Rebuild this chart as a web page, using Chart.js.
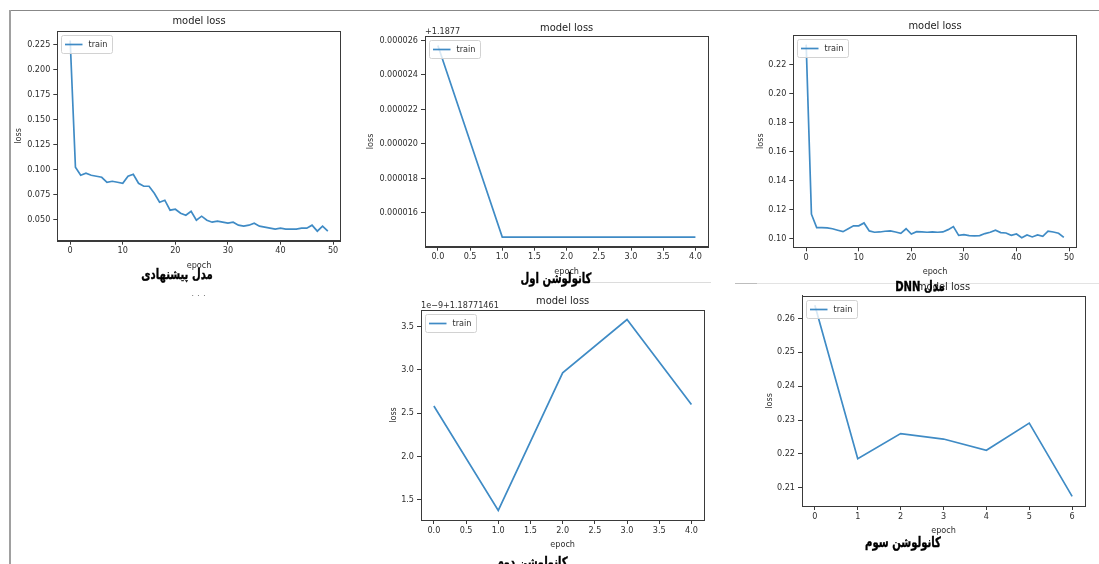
<!DOCTYPE html>
<html>
<head>
<meta charset="utf-8">
<script src="https://cdn.jsdelivr.net/npm/chart.js@4.4.1/dist/chart.umd.min.js"></script>
<style>
  html, body { margin: 0; padding: 0; background: #fff; }
  body { width: 1099px; height: 564px; position: relative; overflow: hidden; }
  .panel { position: absolute; }
  .panel canvas { display: block; }
  .rule { position: absolute; }
  .caption {
    position: absolute;
    font-family: 'DejaVu Sans', sans-serif;
    font-weight: bold;
    font-size: 14px;
    line-height: 1;
    color: #000;
    white-space: nowrap;
    -webkit-text-stroke: 0.4px #000;
    transform: translate(-50%, -50%) scaleX(0.72);
  }
  .dots { position: absolute; font: 9px 'DejaVu Sans', sans-serif; color: #777; transform: translate(-50%, -50%); letter-spacing: 3px; }
</style>
</head>
<body>
<!-- page frame and separators -->
<div class="rule" style="left:9px;top:10px;width:1090px;height:1px;background:#888"></div>
<div class="rule" style="left:9px;top:10px;width:2px;height:554px;background:#a0a0a0"></div>
<div class="rule" style="left:590px;top:282px;width:121px;height:1px;background:#dcdcdc"></div>
<div class="rule" style="left:735px;top:283px;width:364px;height:1px;background:#e3e3e3"></div>
<div class="rule" style="left:735px;top:283px;width:22px;height:1px;background:#bdbdbd"></div>

<div class="panel" style="left:10px;top:11px;width:345px;height:270px"><canvas id="cProposed"></canvas></div>
<div class="panel" style="left:362px;top:14px;width:352px;height:270px"><canvas id="cConv1"></canvas></div>
<div class="panel" style="left:750px;top:13px;width:345px;height:272px"><canvas id="cDnn"></canvas></div>
<div class="panel" style="left:380px;top:288px;width:330px;height:270px"><canvas id="cConv2"></canvas></div>
<div class="panel" style="left:758px;top:275px;width:335px;height:262px"><canvas id="cConv3"></canvas></div>

<div class="caption" style="left:177px;top:274px">مدل پیشنهادی</div>
<div class="dots" style="left:200px;top:293px">...</div>
<div class="caption" style="left:556px;top:278px">کانولوشن اول</div>
<div class="caption" dir="rtl" style="left:920px;top:286px">مدل DNN</div>
<div class="caption" style="left:532px;top:562px">کانولوشن دوم</div>
<div class="caption" style="left:903px;top:542px">کانولوشن سوم</div>

<script>
// ---- training loss per epoch ----
const proposedLoss = [
  0.229, 0.102, 0.094, 0.096, 0.094, 0.093, 0.092, 0.087, 0.088, 0.087,
  0.086, 0.093, 0.095, 0.086, 0.083, 0.083, 0.076, 0.067, 0.069, 0.059,
  0.060, 0.056, 0.054, 0.058, 0.049, 0.053, 0.049, 0.047, 0.048, 0.047,
  0.046, 0.047, 0.044, 0.043, 0.044, 0.046, 0.043, 0.042, 0.041, 0.040,
  0.041, 0.040, 0.040, 0.040, 0.041, 0.041, 0.044, 0.038, 0.043, 0.038
];
// first convolution model: loss minus 1.1877
const conv1LossOffset = [0.0000257, 0.0000146, 0.0000146, 0.0000146, 0.0000146];
const dnnLoss = [
  0.2334, 0.1170, 0.1078, 0.1078, 0.1076, 0.1070, 0.1060, 0.1050, 0.1070, 0.1090,
  0.1090, 0.1110, 0.1055, 0.1046, 0.1048, 0.1053, 0.1055, 0.1048, 0.1039, 0.1070,
  0.1034, 0.1050, 0.1048, 0.1046, 0.1048, 0.1046, 0.1048, 0.1064, 0.1085, 0.1025,
  0.1030, 0.1023, 0.1021, 0.1023, 0.1037, 0.1046, 0.1060, 0.1044, 0.1041, 0.1025,
  0.1034, 0.1009, 0.1028, 0.1014, 0.1028, 0.1018, 0.1053, 0.1048, 0.1039, 0.1011
];
// second convolution model: (loss - 1.18771461) in units of 1e-9
const conv2LossOffset = [2.583, 1.376, 2.966, 3.581, 2.599];
const conv3Loss = [0.2638, 0.2186, 0.2260, 0.2244, 0.2211, 0.2291, 0.2075];

// ---- tick labels ----
const epochTicks50 = [0, 10, 20, 30, 40, 50];
const epochTicks4 = [0, 0.5, 1, 1.5, 2, 2.5, 3, 3.5, 4];
const epochTicks6 = [0, 1, 2, 3, 4, 5, 6];
const proposedTicks = [0.05, 0.075, 0.1, 0.125, 0.15, 0.175, 0.2, 0.225];
const conv1Ticks = [0.000016, 0.000018, 0.000020, 0.000022, 0.000024, 0.000026];
const dnnTicks = [0.10, 0.12, 0.14, 0.16, 0.18, 0.20, 0.22];
const conv2Ticks = [1.5, 2.0, 2.5, 3.0, 3.5];
const conv3Ticks = [0.21, 0.22, 0.23, 0.24, 0.25, 0.26];

const FONT = "'DejaVu Sans Condensed', 'DejaVu Sans', sans-serif";
const INK = '#2e2e2e';
const SPINE = '#3a3a3a';
const LINE_BLUE = '#3f8bc5';

// axis limits with 5% head-room on both sides
function paddedRange(lo, hi) {
  const m = (hi - lo) * 0.05;
  return { min: lo - m, max: hi + m };
}

// closed box around the plotting area
const axesFrame = {
  id: 'axesFrame',
  afterDatasetsDraw(chart) {
    const { ctx, chartArea: a } = chart;
    ctx.save();
    ctx.strokeStyle = SPINE;
    ctx.lineWidth = 1;
    ctx.strokeRect(Math.round(a.left) + 0.5, Math.round(a.top) + 0.5,
                   Math.round(a.right - a.left), Math.round(a.bottom - a.top));
    ctx.restore();
  }
};

// framed legend in the upper-left corner of the plotting area
const cornerLegend = {
  id: 'cornerLegend',
  afterDraw(chart) {
    const ds = chart.data.datasets[0];
    const { ctx, chartArea: a } = chart;
    const x = Math.round(a.left) + 4.5, y = Math.round(a.top) + 4.5, w = 51, h = 18;
    ctx.save();
    ctx.fillStyle = 'rgba(255,255,255,0.8)';
    ctx.strokeStyle = '#d2d2d2';
    ctx.lineWidth = 1;
    ctx.beginPath();
    ctx.roundRect(x, y, w, h, 2);
    ctx.fill();
    ctx.stroke();
    ctx.strokeStyle = ds.borderColor;
    ctx.lineWidth = ds.borderWidth;
    ctx.beginPath();
    ctx.moveTo(x + 3.5, y + h / 2);
    ctx.lineTo(x + 21, y + h / 2);
    ctx.stroke();
    ctx.fillStyle = INK;
    ctx.font = '9px ' + FONT;
    ctx.textBaseline = 'middle';
    ctx.textAlign = 'left';
    ctx.fillText(ds.label, x + 27, y + h / 2 + 0.5);
    ctx.restore();
  }
};

// offset annotation above the y axis
const axisOffset = {
  id: 'axisOffset',
  afterDraw(chart, args, opts) {
    if (!opts || !opts.text) return;
    const { ctx, chartArea: a } = chart;
    ctx.save();
    ctx.fillStyle = INK;
    ctx.font = '9px ' + FONT;
    ctx.textAlign = 'left';
    ctx.textBaseline = 'alphabetic';
    ctx.fillText(opts.text, a.left, a.top - 2);
    ctx.restore();
  }
};

function lossChart(id, series, xTicks, yTicks, xDigits, yDigits, box, offsetText) {
  const xr = paddedRange(0, series.length - 1);
  const yr = paddedRange(Math.min(...series), Math.max(...series));
  const tickFont = { family: FONT, size: 9 };
  return new Chart(document.getElementById(id), {
    type: 'line',
    data: {
      datasets: [{
        label: 'train',
        data: series.map((v, i) => ({ x: i, y: v })),
        borderColor: LINE_BLUE,
        borderWidth: 1.7,
        pointRadius: 0,
        tension: 0,
        fill: false
      }]
    },
    options: {
      responsive: true,
      maintainAspectRatio: false,
      animation: false,
      layout: { padding: { left: 0, top: 0, bottom: 0, right: box.right } },
      plugins: {
        legend: { display: false },
        tooltip: { enabled: false },
        title: {
          display: true,
          fullSize: false,
          text: 'model loss',
          color: '#222',
          font: { family: FONT, size: 11, weight: 'normal', lineHeight: 1.2 },
          padding: { top: box.titleTop, bottom: box.titleBottom }
        },
        axisOffset: { text: offsetText }
      },
      scales: {
        x: {
          type: 'linear',
          min: xr.min,
          max: xr.max,
          afterBuildTicks: s => { s.ticks = xTicks.map(v => ({ value: v })); },
          afterFit: s => { s.height = box.xHeight; },
          ticks: { color: INK, font: tickFont, padding: 1, maxRotation: 0, autoSkip: false,
                   callback: v => Number(v).toFixed(xDigits) },
          grid: { drawOnChartArea: false, drawTicks: true, tickLength: 4, color: SPINE },
          border: { display: true, color: SPINE },
          title: { display: true, text: 'epoch', color: INK,
                   font: { family: FONT, size: 9, lineHeight: 1.2 },
                   padding: { top: 0, bottom: box.xTitlePad } }
        },
        y: {
          type: 'linear',
          min: yr.min,
          max: yr.max,
          afterBuildTicks: s => { s.ticks = yTicks.map(v => ({ value: v })); },
          afterFit: s => { s.width = box.yWidth; },
          ticks: { color: INK, font: tickFont, padding: 3, autoSkip: false,
                   callback: v => Number(v).toFixed(yDigits) },
          grid: { drawOnChartArea: false, drawTicks: true, tickLength: 4, color: SPINE },
          border: { display: true, color: SPINE },
          title: { display: true, text: 'loss', color: INK,
                   font: { family: FONT, size: 9, lineHeight: 1.2 },
                   padding: { top: box.yTitlePad, bottom: 0 } }
        }
      }
    },
    plugins: [axesFrame, cornerLegend, axisOffset]
  });
}

lossChart('cProposed', proposedLoss, epochTicks50, proposedTicks, 0, 3,
  { yWidth: 47.3, xHeight: 40.3, right: 14.3, titleTop: 3.4, titleBottom: 3.4, yTitlePad: 3.6, xTitlePad: 9.6 });
lossChart('cConv1', conv1LossOffset, epochTicks4, conv1Ticks, 1, 6,
  { yWidth: 63, xHeight: 37.3, right: 5.7, titleTop: 7.1, titleBottom: 1.7, yTitlePad: 3.6, xTitlePad: 6.9 },
  '+1.1877');
lossChart('cDnn', dnnLoss, epochTicks50, dnnTicks, 0, 2,
  { yWidth: 43.3, xHeight: 37.7, right: 18.3, titleTop: 6.4, titleBottom: 2.4, yTitlePad: 5.3, xTitlePad: 7.9 });
lossChart('cConv2', conv2LossOffset, epochTicks4, conv2Ticks, 1, 1,
  { yWidth: 41, xHeight: 38, right: 5.7, titleTop: 6.1, titleBottom: 2.7, yTitlePad: 7.9, xTitlePad: 7.6 },
  '1e\u22129+1.18771461');
lossChart('cConv3', conv3Loss, epochTicks6, conv3Ticks, 0, 2,
  { yWidth: 44, xHeight: 31, right: 8, titleTop: 5.1, titleBottom: 2.4, yTitlePad: 5.9, xTitlePad: 0.9 });
</script>
</body>
</html>
